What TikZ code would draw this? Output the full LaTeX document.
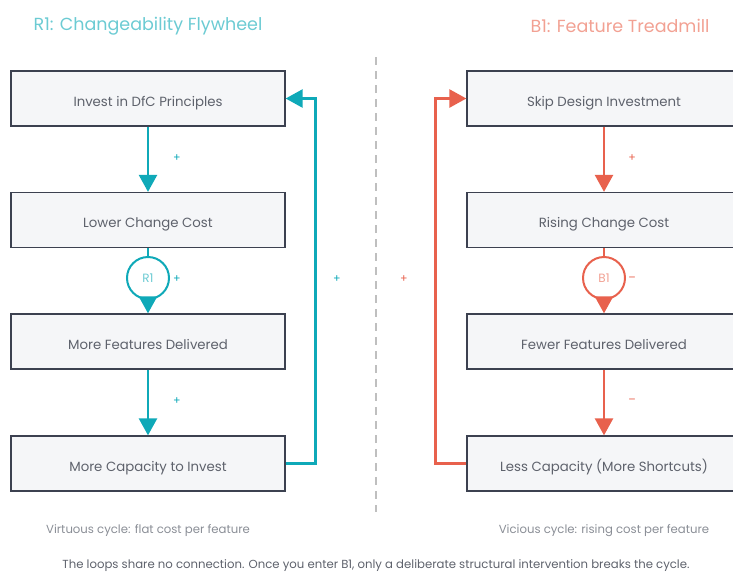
\documentclass[tikz,border=0pt]{standalone}
\usepackage{fontspec}
\setmainfont{Poppins}
\usetikzlibrary{arrows.meta,calc}
\definecolor{teal}{HTML}{0FA9B8}
\definecolor{teallight}{HTML}{6CCBD3}
\definecolor{coral}{HTML}{E8614D}
\definecolor{corallight}{HTML}{F2A193}
\definecolor{boxfill}{HTML}{F5F6F8}
\definecolor{boxline}{HTML}{3C4150}
\definecolor{txt}{HTML}{5E626C}
\definecolor{capt}{HTML}{8A8E96}
\begin{document}
\begin{tikzpicture}[x=1pt,y=-1pt,
  stage/.style={draw=boxline,fill=boxfill,line width=1.3pt,minimum width=274pt,minimum height=55pt,inner sep=0pt,text height=15pt,text depth=0pt,font=\fontsize{13.3}{15}\selectfont,text=txt},
  looptag/.style={circle,draw=#1,fill=white,line width=2pt,minimum size=42pt,inner sep=0pt,font=\fontsize{12}{14}\selectfont},
  flow/.style={draw=#1,line width=2.6pt,-{Triangle[width=18pt,length=17pt]}},
  link/.style={draw=#1,line width=2.6pt},
  pol/.style={font=\fontsize{11}{13}\selectfont,text=#1},
  title/.style={font=\fontsize{17.5}{20}\selectfont,text=#1},
  caption/.style={font=\fontsize{11.7}{13}\selectfont,text=capt}]
\useasboundingbox (0,0) rectangle (733,574);
\clip (0,0) rectangle (733,574);

% titles
\node[title=teallight] (tR) at (148,26) {R1: Changeability Flywheel};
\node[title=corallight] (tB) at (620,26) {B1: Feature Treadmill};

% divider
\draw[gray!50,line width=1.5pt,dash pattern=on 8pt off 6pt] (376,57) -- (376,512);

% reinforcing loop
\node[stage] (r1) at (148,98.5) {Invest in DfC Principles};
\node[stage] (r2) at (148,220) {Lower Change Cost};
\node[stage] (r3) at (148,341.5) {More Features Delivered};
\node[stage] (r4) at (148,463.5) {More Capacity to Invest};
\node[looptag=teal,text=teallight] (rc) at (148,278) {R1};

\draw[flow=teal] (r1) -- (r2);
\draw[link=teal] (r2) -- (rc);
\draw[flow=teal] (rc) -- (r3);
\draw[flow=teal] (r3) -- (r4);
\draw[flow=teal] (r4.east) -- ++(30,0) |- (r1.east);

\node[pol=teal] (p1) at (177,158) {+};
\node[pol=teal] (p2) at (177,279) {+};
\node[pol=teal] (p3) at (177,401) {+};
\node[pol=teal] (p4) at (337,279) {+};

% balancing loop
\node[stage] (b1) at (604,98.5) {Skip Design Investment};
\node[stage] (b2) at (604,220) {Rising Change Cost};
\node[stage] (b3) at (604,341.5) {Fewer Features Delivered};
\node[stage] (b4) at (604,463.5) {Less Capacity (More Shortcuts)};
\node[looptag=coral,text=corallight] (bc) at (604,278) {B1};

\draw[flow=coral] (b1) -- (b2);
\draw[link=coral] (b2) -- (bc);
\draw[flow=coral] (bc) -- (b3);
\draw[flow=coral] (b3) -- (b4);
\draw[flow=coral] (b4.west) -- ++(-31,0) |- (b1.west);

\node[pol=coral] (q1) at (632,158) {+};
\node[pol=coral] (q2) at (632,279) {\textendash};
\node[pol=coral] (q3) at (632,401) {\textendash};
\node[pol=coral] (q4) at (404,279) {+};

% captions
\node[caption] (cR) at (148,531) {Virtuous cycle: flat cost per feature};
\node[caption] (cB) at (604,531) {Vicious cycle: rising cost per feature};
\node[caption,text=txt] (note) at (376,565.5) {The loops share no connection. Once you enter B1, only a deliberate structural intervention breaks the cycle.};
\end{tikzpicture}
\end{document}
